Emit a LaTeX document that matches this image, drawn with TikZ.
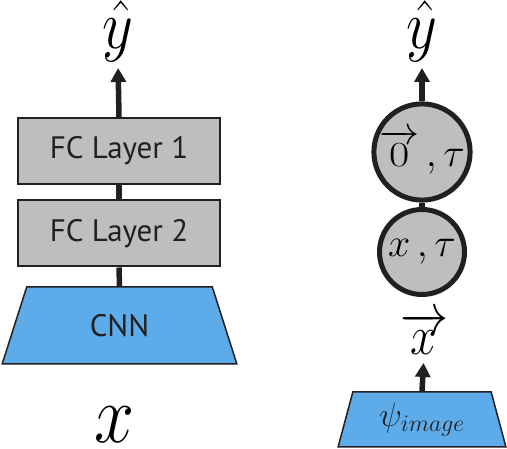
\RequirePackage{fix-cm}
\documentclass[tikz,border=0pt]{standalone}
\usepackage{graphicx}
\usepackage{fontspec}
\setsansfont{PT Sans}
\usetikzlibrary{shapes.geometric,arrows.meta}
\definecolor{layergray}{RGB}{188,190,192}
\definecolor{cnnblue}{RGB}{93,171,232}
\definecolor{inkdark}{RGB}{35,31,32}
\newcommand{\tallmath}[1]{\scalebox{1}[1.15]{$#1$}}

\begin{document}
\begin{tikzpicture}[x=1pt,y=-1pt]
    \tikzstyle{fclayer} = [draw=inkdark, line width=2pt, fill=layergray, minimum width=202pt, minimum height=66pt, inner sep=0pt, text=inkdark, font=\sffamily\fontsize{31}{36}\selectfont]
    \tikzstyle{encoder} = [trapezium, trapezium stretches=true, draw=inkdark, line width=1.5pt, fill=cnnblue, inner sep=0pt, text=inkdark]
    \tikzstyle{unit}    = [circle, draw=inkdark, line width=5pt, fill=layergray, minimum size=85pt, inner sep=0pt, font=\fontsize{40}{46}\selectfont]
    \tikzstyle{link}    = [draw=inkdark, line width=5.5pt]
    \tikzstyle{flow}    = [link, -{Triangle[length=14pt,width=15pt]}]
    \tikzstyle{big}     = [inner sep=0pt, anchor=south, font=\fontsize{60}{70}\selectfont]

    \useasboundingbox (0,0) rectangle (507,449);

    % left: CNN with fully connected layers
    \node[encoder, trapezium angle=70.7, minimum width=235pt, minimum height=77pt, font=\sffamily\fontsize{31}{36}\selectfont] (cnn) at (119.5,325.5) {CNN};
    \node[fclayer] (fc2) at (119,233.5) {FC Layer 2};
    \node[fclayer] (fc1) at (119,151) {FC Layer 1};
    \node[big] (yhatL) at (118,62) {\tallmath{\hat{y}}};
    \node[big, font=\fontsize{72}{80}\selectfont] (xin) at (115,443) {\tallmath{x}};

    \draw[link] (cnn.north) -- (fc2.south);
    \draw[link] (fc2.north) -- (fc1.south);
    \draw[flow, shorten >=6pt] (fc1.north) -- (yhatL.south);

    % right: units on the embedding
    \node[encoder, trapezium angle=74.7, minimum width=168pt, minimum height=55pt, font=\fontsize{34}{40}\selectfont] (psi) at (422,419.5) {$\psi_{image}$};
    \node[big, font=\fontsize{48}{56}\selectfont] (xvec) at (424,355) {\tallmath{\overrightarrow{\,x\,}}};
    \node[unit] (unit2) at (422,252) {$x\,,\tau$};
    \node[unit] (unit1) at (422,152) {$\overrightarrow{\scalebox{1.1}[0.88]{$0$}}\,,\tau$};
    \node[big] (yhatR) at (422,62) {\tallmath{\hat{y}}};

    \draw[flow, shorten >=8pt] (psi.north) -- (xvec.south);
    \draw[link] (unit2.north) -- (unit1.south);
    \draw[flow, shorten >=6pt] (unit1.north) -- (yhatR.south);
\end{tikzpicture}
\end{document}
